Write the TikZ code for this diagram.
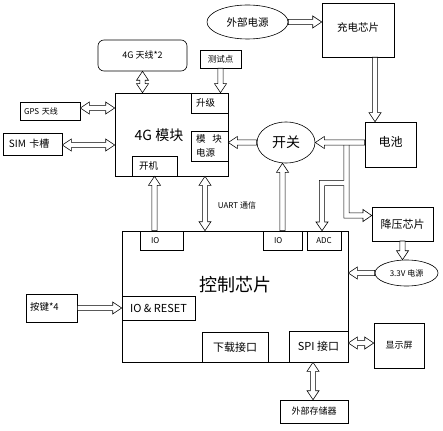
\documentclass[tikz,border=0pt]{standalone}
\usepackage{fontspec}
\setmainfont{Noto Sans CJK SC}
\usetikzlibrary{shapes.geometric,calc}
\newcommand{\fsz}[1]{\fontsize{#1}{#1}\selectfont}
\begin{document}
\begin{tikzpicture}[x=1pt,y=-1pt,
  box/.style={draw, line width=0.6pt, inner sep=0pt, align=center},
  lbox/.style={draw, line width=0.6pt, inner ysep=0pt, inner xsep=3pt, align=left},
  ell/.style={draw, ellipse, line width=0.6pt, inner sep=0pt},
  arr/.style={draw, line width=0.6pt, fill=white, line join=miter},
  sa/.style={to path={let \p1=($(\tikztotarget)!9pt!(\tikztostart)$) in
     ($(\tikztostart)!2.6pt!90:(\tikztotarget)$) -- ($(\p1)!2.6pt!-90:(\tikztostart)$)
     -- ($(\p1)!6pt!-90:(\tikztostart)$) -- (\tikztotarget)
     -- ($(\p1)!6pt!90:(\tikztostart)$) -- ($(\p1)!2.6pt!90:(\tikztostart)$)
     -- ($(\tikztostart)!2.6pt!-90:(\tikztotarget)$) -- cycle}},
  da/.style={to path={let \p1=($(\tikztostart)!9pt!(\tikztotarget)$), \p2=($(\tikztotarget)!9pt!(\tikztostart)$) in
     (\tikztostart) -- ($(\p1)!6pt!90:(\tikztotarget)$) -- ($(\p1)!2.6pt!90:(\tikztotarget)$)
     -- ($(\p2)!2.6pt!-90:(\tikztostart)$) -- ($(\p2)!6pt!-90:(\tikztostart)$) -- (\tikztotarget)
     -- ($(\p2)!6pt!90:(\tikztostart)$) -- ($(\p2)!2.6pt!90:(\tikztostart)$)
     -- ($(\p1)!2.6pt!-90:(\tikztotarget)$) -- ($(\p1)!6pt!-90:(\tikztotarget)$) -- cycle}}
]
\useasboundingbox[fill=white] (0,0) rectangle (443,430);

% ---- top-left: 4G module and peripherals
\node[box, rounded corners=6pt, minimum width=89pt, minimum height=31pt, font=\fsz{9}] (ant) at (142.5,55.5) {4G 天线*2};
\node[box, minimum width=41pt, minimum height=18pt, font=\fsz{8.5}] (test) at (220.5,59) {测试点};
\node[lbox, text width=52pt, inner xsep=4pt, minimum height=18pt, font=\fsz{8}] (gps) at (50,111) {GPS 天线};
\node[lbox, text width=47pt, inner xsep=6pt, minimum height=22pt, font=\fsz{10}] (sim) at (32.5,144) {SIM 卡槽};
\node[box, minimum width=113pt, minimum height=83pt] (mod) at (171.5,134.5) {};
\node[font=\fsz{14}] (modl) at (159,135) {4G 模块};
\node[lbox, text width=27pt, inner xsep=5pt, minimum height=20pt, font=\fsz{9.5}] (up) at (209.5,103) {升级};
\node[lbox, text width=27pt, inner xsep=5pt, minimum height=30pt, font=\fontsize{9.5}{14}\selectfont] (pwr) at (209.5,146) {模\hspace{7pt}块\\电源};
\node[lbox, text width=31pt, inner xsep=7pt, minimum height=20pt, font=\fsz{9.5}] (kj) at (154.5,166) {开机};

% ---- top-right: power
\node[ell, minimum width=81pt, minimum height=34pt, font=\fsz{10.5}] (ext) at (247.5,22) {外部电源};
\node[box, minimum width=72pt, minimum height=54pt, font=\fsz{10.5}] (chg) at (358,30) {\raisebox{5pt}{充电芯片}};
\node[box, minimum width=51pt, minimum height=45pt, font=\fsz{12}] (bat) at (390.5,144.5) {\raisebox{6pt}{电池}};
\node[ell, minimum width=58pt, minimum height=41pt, font=\fsz{14}] (sw) at (286,142.5) {开关};
\node[box, minimum width=61pt, minimum height=34pt, font=\fsz{11}] (buck) at (402.5,224) {降压芯片};
\node[ell, minimum width=63pt, minimum height=26pt, font=\fsz{8}] (v33) at (406.5,273) {3.3V 电源};

% ---- control chip
\node[box, minimum width=226pt, minimum height=131pt] (ctrl) at (235,296.5) {};
\node[font=\fsz{18}] (ctrll) at (235,285) {控制芯片};
\node[lbox, text width=27pt, inner xsep=8pt, minimum height=19pt, font=\fsz{8}] (io1) at (161.5,240.5) {\hspace{3pt}IO};
\node[lbox, text width=23pt, inner xsep=8pt, minimum height=19pt, font=\fsz{8}] (io2) at (282.5,240.5) {\hspace{3pt}IO};
\node[box, minimum width=34pt, minimum height=19pt, font=\fsz{8}] (adc) at (324,240.5) {ADC};
\node[box, minimum width=73pt, minimum height=24pt, font=\fsz{11}] (iores) at (158.5,308) {IO \& RESET};
\node[box, minimum width=66pt, minimum height=30pt, font=\fsz{11}] (dl) at (235,347) {下载接口};
\node[box, minimum width=59pt, minimum height=31pt, font=\fsz{11}] (spi) at (318.5,346.5) {SPI 接口};
\node[lbox, text width=43pt, inner xsep=4pt, minimum height=28pt, font=\fsz{9.5}] (key) at (51.5,308) {\raisebox{3pt}{按键*4}};
\node[box, minimum width=50pt, minimum height=45pt, font=\fsz{9}] (disp) at (399,345.5) {显示屏};
\node[box, minimum width=68pt, minimum height=23pt, font=\fsz{9}] (mem) at (314,411.5) {外部存储器};
\node[font=\fsz{8}] (uart) at (237,205) {UART 通信};

% ---- arrows
\draw[arr, da] (ant.south) to (ant.south |- mod.north);
\draw[arr, sa] (test.south) to (test.south |- up.north);
\draw[arr, da] (gps.east |- 0,108) to (mod.west |- 0,108);
\draw[arr, da] (sim.east |- 0,145) to (mod.west |- 0,145);
\draw[arr, sa] (ext.east) to (ext.east -| chg.west);
\draw[arr, sa] (375,0 |- chg.south) to (375,0 |- bat.north);
\draw[arr, sa] (sw.west) to (sw.west -| pwr.east);
\draw[arr, sa] (bat.west |- sw.east) to (sw.east);
\draw[arr, sa] (kj.south |- io1.north) to (kj.south);
\draw[arr, da] (205,0 |- mod.south) to (205,0 |- ctrl.north);
\draw[arr, sa] (io2.north) to (io2.north |- sw.south);
\draw[arr, sa] (key.east) to (key.east -| ctrl.west);
\draw[arr, sa] (buck.south |- 0,241) to (buck.south |- v33.north);
\draw[arr, sa] (v33.west) to (v33.west -| ctrl.east);
\draw[arr, da] (spi.east |- 0,343) to (disp.west |- 0,343);
\draw[arr, da] (313,0 |- spi.south) to (313,0 |- mem.north);

% battery -> ADC and buck converter (branched hollow connector)
\draw[arr, fill=none] (343.9,145.1) -- (343.9,180.4) -- (319.4,180.4) -- (319.4,222)
  -- (316,222) -- (322,0 |- adc.north) -- (328,222) -- (324.6,222) -- (324.6,185.6)
  -- (343.9,185.6) -- (343.9,218.1) -- (363,218.1) -- (363,221.5) -- (buck.west |- 0,215.5)
  -- (363,209.5) -- (363,212.9) -- (349.1,212.9) -- (349.1,145.1);
\end{tikzpicture}
\end{document}
